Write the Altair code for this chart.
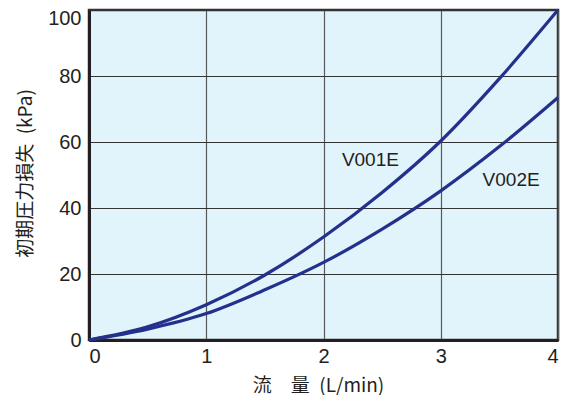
import altair as alt
import pandas as pd

flow = [0, 0.5, 1, 1.5, 2, 2.5, 3, 3.5, 4]
v001e = [0, 4.0, 10.7, 19.7, 31.2, 44.7, 60.3, 79.2, 100]
v002e = [0, 3.3, 8.0, 15.2, 23.5, 33.6, 45.2, 58.6, 73.5]
series_names = ["V001E", "V002E"]
label_x = [2.40, 3.60]
label_y = [54.5, 48.5]

rows = []
for name, vals in zip(series_names, [v001e, v002e]):
    for x, y in zip(flow, vals):
        rows.append({"flow": x, "loss": y, "series": name})
df = pd.DataFrame(rows)
labels = pd.DataFrame({"x": label_x, "y": label_y, "text": series_names})

xscale = alt.Scale(domain=[0, 4], nice=False)
yscale = alt.Scale(domain=[0, 100], nice=False)

lines = alt.Chart(df).mark_line(strokeWidth=3.2, color="#23318c", interpolate="monotone").encode(
    x=alt.X("flow:Q", scale=xscale,
            axis=alt.Axis(title="流　量\u2002(L/min)", values=[0, 1, 2, 3, 4], format="d",
                          tickSize=0, labelPadding=6, labelFontSize=20, labelColor="#231f20",
                          labelFont="Liberation Sans", titleFont="Noto Sans CJK JP",
                          titleFontSize=19, titleFontWeight="normal", titleColor="#231f20",
                          titlePadding=10, titleX=229, titleLimit=1000,
                          domainColor="#231f20", domainWidth=3,
                          gridColor="#58595b", gridWidth=1.2, gridOpacity=1)),
    y=alt.Y("loss:Q", scale=yscale,
            axis=alt.Axis(title="初期圧力損失\u2002(kPa)", values=[0, 20, 40, 60, 80, 100],
                          tickSize=0, labelPadding=8, labelFontSize=20, labelColor="#231f20",
                          labelFont="Liberation Sans", titleFont="Noto Sans CJK JP",
                          titleFontSize=19, titleFontWeight="normal", titleColor="#231f20",
                          titleX=-64, titleY=163, titleAlign="center", titleBaseline="middle",
                          titleLimit=1000,
                          labelOffset={"condition": {"test": "datum.value == 100", "value": 8}, "value": 0},
                          domainColor="#231f20", domainWidth=3,
                          gridColor="#333333", gridWidth=1.2, gridOpacity=1)),
    detail="series:N",
)

text = alt.Chart(labels).mark_text(font="Liberation Sans", fontSize=19, color="#231f20").encode(
    x=alt.X("x:Q", scale=xscale),
    y=alt.Y("y:Q", scale=yscale),
    text="text:N",
)

chart = (lines + text).properties(
    width=469, height=330,
    autosize=alt.AutoSizeParams(type="none"),
    padding={"left": 81, "top": 2, "right": 10, "bottom": 55},
).configure_view(
    fill="#e1f3fb", stroke="#333333", strokeWidth=2.5
)

chart.save("out.html", embed_options={"renderer": "svg", "actions": False})
